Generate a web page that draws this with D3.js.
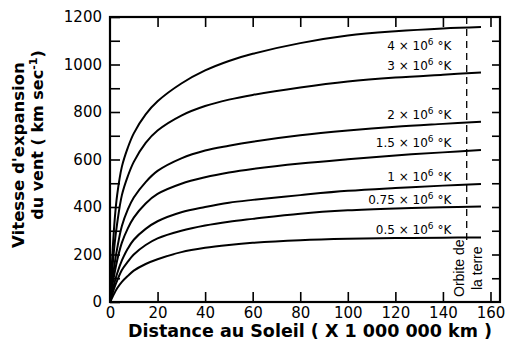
<!DOCTYPE html>
<html>
<head>
<meta charset="utf-8">
<script src="https://cdn.jsdelivr.net/npm/d3@7"></script>
<style>
  body { margin: 0; background: #fff; }
  svg { display: block; }
</style>
</head>
<body>
<div id="chart"></div>
<script>
// distance from the Sun (x 1 000 000 km)
const distances = [0, 1, 2, 3, 5, 7.5, 10, 15, 20, 30, 40, 50, 60, 80, 100, 120, 140, 156];

// wind speed (km/s) for each coronal temperature
const speed4 = [0, 200, 350, 450, 570, 650, 710, 790, 845, 920, 975, 1015, 1045, 1090, 1122, 1140, 1152, 1158];
const speed3 = [0, 140, 250, 330, 450, 530, 590, 670, 722, 785, 825, 852, 872, 903, 928, 945, 957, 966];
const speed2 = [0, 90, 165, 225, 320, 390, 440, 505, 552, 605, 638, 658, 675, 702, 722, 738, 750, 759];
const speed15 = [0, 70, 125, 175, 250, 310, 355, 415, 455, 498, 525, 545, 560, 583, 601, 617, 630, 640];
const speed1 = [0, 45, 85, 120, 175, 225, 262, 308, 340, 378, 400, 418, 430, 450, 468, 480, 490, 497];
const speed075 = [0, 35, 65, 90, 135, 170, 200, 240, 268, 300, 322, 338, 350, 372, 386, 394, 399, 402];
const speed05 = [0, 20, 40, 58, 85, 110, 132, 160, 180, 210, 228, 240, 249, 260, 266, 269, 271, 272];

const temperatures = ["4", "3", "2", "1.5", "1", "0.75", "0.5"];
const allSpeeds = [speed4, speed3, speed2, speed15, speed1, speed075, speed05];

const xTicks = [0, 20, 40, 60, 80, 100, 120, 140, 160];
const yTicks = [0, 100, 200, 300, 400, 500, 600, 700, 800, 900, 1000, 1100, 1200];
const earthOrbit = 150;

const width = 526;
const height = 359;

const svg = d3.select("#chart")
  .append("svg")
  .attr("width", width)
  .attr("height", height);

const x = d3.scaleLinear().domain([0, 164]).range([110, 500]);
const y = d3.scaleLinear().domain([0, 1200]).range([302, 17]);

// ticks, all pointing inwards
svg.append("g")
  .attr("transform", `translate(0,${y(0)})`)
  .call(d3.axisBottom(x).tickValues(xTicks).tickSize(-10).tickSizeOuter(0).tickPadding(5))
  .call(g => g.select(".domain").remove());

svg.append("g")
  .attr("transform", `translate(0,${y(1200)})`)
  .call(d3.axisTop(x).tickValues(xTicks.slice(1)).tickSize(-10).tickSizeOuter(0).tickFormat(""))
  .call(g => g.select(".domain").remove());

svg.append("g")
  .attr("transform", `translate(${x(0)},0)`)
  .call(d3.axisLeft(y).tickValues(yTicks).tickSize(-10).tickSizeOuter(0).tickPadding(8)
    .tickFormat(d => d % 200 === 0 ? d : ""))
  .call(g => g.select(".domain").remove());

svg.append("g")
  .attr("transform", `translate(${x(164)},0)`)
  .call(d3.axisRight(y).tickValues(yTicks.slice(1, -1)).tickSize(-8).tickSizeOuter(0).tickFormat(""))
  .call(g => g.select(".domain").remove());

svg.selectAll(".tick line")
  .attr("stroke", "#000")
  .attr("stroke-width", 1.6);

svg.selectAll(".tick text")
  .attr("font-family", "DejaVu Sans")
  .attr("font-size", "15px")
  .attr("fill", "#000");

// frame
svg.append("rect")
  .attr("x", x(0))
  .attr("y", y(1200))
  .attr("width", x(164) - x(0))
  .attr("height", y(0) - y(1200))
  .attr("fill", "none")
  .attr("stroke", "#000")
  .attr("stroke-width", 2.2);

// earth orbit
svg.append("line")
  .attr("x1", x(earthOrbit))
  .attr("x2", x(earthOrbit))
  .attr("y1", y(1200))
  .attr("y2", 245)
  .attr("stroke", "#000")
  .attr("stroke-width", 1.3)
  .attr("stroke-dasharray", "7,5");

svg.append("text")
  .attr("transform", `translate(${x(earthOrbit) - 3},297) rotate(-90)`)
  .attr("font-family", "Liberation Sans")
  .attr("font-size", "14px")
  .text("Orbite de");

svg.append("text")
  .attr("transform", `translate(${x(earthOrbit) + 15},290) rotate(-90)`)
  .attr("font-family", "Liberation Sans")
  .attr("font-size", "14px")
  .text("la terre");

const line = d3.line()
  .x((d, i) => x(distances[i]))
  .y(d => y(d))
  .curve(d3.curveCatmullRom.alpha(0.5));

svg.selectAll(".curve")
  .data(allSpeeds)
  .enter()
  .append("path")
  .attr("class", "curve")
  .attr("d", d => line(d))
  .attr("fill", "none")
  .attr("stroke", "#000")
  .attr("stroke-width", 2);

const labels = svg.selectAll(".temp")
  .data(temperatures)
  .enter()
  .append("text")
  .attr("class", "temp")
  .attr("x", x(143.5))
  .attr("y", (d, i) => {
    const last = allSpeeds[i][allSpeeds[i].length - 1];
    return i === 0 ? y(last) + 23 : y(last) - 3;
  })
  .attr("text-anchor", "end")
  .attr("font-family", "DejaVu Sans")
  .attr("font-size", "12px")
  .attr("fill", "#000");

labels.append("tspan").text(d => d + " × 10");
labels.append("tspan").attr("dy", -5).attr("font-size", "9px").text("6");
labels.append("tspan").attr("dy", 5).text(" °K");

// axis titles
svg.append("text")
  .attr("x", 310)
  .attr("y", 337)
  .attr("text-anchor", "middle")
  .attr("font-family", "DejaVu Sans")
  .attr("font-weight", "bold")
  .attr("font-size", "17.5px")
  .text("Distance au Soleil ( X 1 000 000 km )");

svg.append("text")
  .attr("transform", "translate(24,155) rotate(-90)")
  .attr("text-anchor", "middle")
  .attr("font-family", "DejaVu Sans")
  .attr("font-weight", "bold")
  .attr("font-size", "16.5px")
  .text("Vitesse d'expansion");

const yTitle2 = svg.append("text")
  .attr("transform", "translate(43,135) rotate(-90)")
  .attr("text-anchor", "middle")
  .attr("font-family", "DejaVu Sans")
  .attr("font-weight", "bold")
  .attr("font-size", "16px");

yTitle2.append("tspan").text("du vent ( km sec");
yTitle2.append("tspan").attr("dy", -6).attr("font-size", "11px").text("-1");
yTitle2.append("tspan").attr("dy", 6).text(")");
</script>
</body>
</html>
